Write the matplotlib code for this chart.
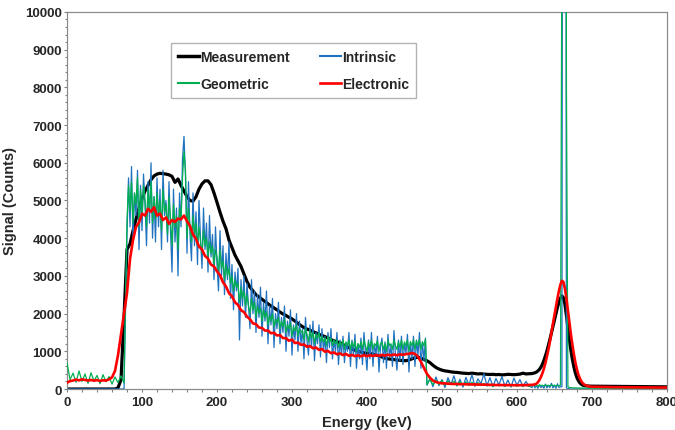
import matplotlib

matplotlib.use("Agg")
import matplotlib.pyplot as plt
import numpy as np
from matplotlib.ticker import MultipleLocator

plt.rcParams["font.family"] = ["Liberation Sans", "DejaVu Sans"]
plt.rcParams["font.weight"] = "bold"

# energy grids (keV)
E_SMOOTH = np.arange(0, 620, 4)    # measurement / electronic continuum
E_LOW = np.arange(0, 80, 4)        # below the 80 keV edge
E_BAND = np.arange(80, 480, 2)     # noisy Compton band
E_MID = np.arange(480, 620, 4)     # between edge and photopeak
E_PEAK = np.arange(620, 702, 2)    # photopeak region
E_TAIL = np.arange(710, 801, 10)

measurement_cont = [
    0, 0, 0, 0, 0, 0, 0, 0, 0, 0,
    0, 0, 0, 0, 0, 0, 0, 30, 250, 1900,
    3700, 3850, 4200, 4500, 4800, 5050, 5250, 5400, 5550, 5650,
    5700, 5720, 5710, 5700, 5680, 5640, 5480, 5570, 5400, 5250,
    5100, 5000, 4980, 5100, 5300, 5440, 5520, 5520, 5420, 5200,
    4950, 4690, 4450, 4250, 3950, 3750, 3550, 3400, 3250, 3050,
    2850, 2700, 2600, 2500, 2440, 2380, 2320, 2260, 2200, 2150,
    2100, 2040, 1990, 1950, 1900, 1860, 1800, 1740, 1680, 1630,
    1590, 1560, 1520, 1490, 1450, 1420, 1390, 1350, 1310, 1280,
    1250, 1230, 1180, 1140, 1100, 1060, 1030, 1000, 980, 960,
    950, 940, 925, 900, 880, 850, 820, 800, 790, 780,
    770, 760, 755, 750, 770, 800, 830, 840, 820, 780,
    750, 700, 630, 570, 530, 500, 480, 470, 455, 445,
    440, 430, 420, 415, 410, 420, 410, 400, 405, 395,
    390, 385, 390, 380, 385, 375, 380, 390, 385, 380,
    385, 395, 420, 400, 405,
]
measurement_peak = [
    410, 420, 430, 450, 480, 520, 580, 660, 760, 880,
    1010, 1160, 1320, 1490, 1660, 1830, 2000, 2160, 2300, 2410,
    2470, 2420, 2250, 1950, 1620, 1300, 1020, 780, 580, 420,
    300, 220, 160, 125, 100, 90, 85, 80, 78, 76,
    75,
]
measurement_tail = [73, 71, 69, 67, 66, 64, 63, 61, 60, 58]

intrinsic_low = [0] * 20
intrinsic_band = [
    4100, 5600, 4300, 5900, 3900, 5200, 4600, 5800, 3700, 5400,
    4200, 5700, 4900, 3800, 5500, 4400, 6000, 4000, 5100, 3900,
    5600, 4300, 5300, 3700, 5800, 4600, 5000, 3900, 5500, 4200,
    3100, 5300, 3900, 4800, 3000, 5200, 4300, 6100, 6700, 5600,
    3600, 5500, 4100, 3400, 5200, 3800, 4700, 3300, 5000, 4000,
    3200, 4800, 3700, 4400, 3100, 4600, 3500, 4100, 2900, 4300,
    3300, 2600, 4200, 3000, 3800, 2500, 3600, 2900, 3900, 2400,
    3300, 2100, 3100, 2600, 3200, 1300, 2900, 2200, 3000, 1900,
    2800, 2200, 1600, 2900, 2000, 2600, 1500, 2500, 1900, 2700,
    1400, 2300, 1800, 2600, 1200, 2200, 1700, 2400, 1100, 2000,
    1600, 2300, 1200, 1900, 1500, 2200, 1000, 1800, 1400, 2100,
    900, 1700, 1300, 2000, 1000, 1800, 1200, 1600, 800, 1900,
    1300, 900, 1700, 1100, 1800, 750, 1500, 1200, 1700, 850,
    1600, 1000, 1400, 700, 1500, 1100, 1600, 800, 1300, 1000,
    1500, 650, 1300, 900, 1400, 700, 1200, 1000, 1500, 600,
    1300, 900, 1450, 550, 1200, 800, 1350, 650, 1500, 950,
    500, 1300, 800, 1500, 600, 1200, 900, 1400, 450, 1100,
    1350, 700, 1250, 550, 1450, 850, 1150, 600, 1550, 900,
    500, 1300, 750, 1400, 650, 1200, 950, 1450, 450, 1250,
    800, 1400, 600, 1300, 900, 1500, 550, 1250, 750, 1350,
]
intrinsic_mid = [
    100, 280, 60, 320, 90, 250, 40, 300, 120, 350,
    80, 260, 50, 310, 100, 380, 70, 270, 140, 400,
    90, 300, 60, 280, 110, 330, 70, 240, 50, 290,
    100, 250, 60, 200, 80,
]
intrinsic_peak = [
    40, 120, 30, 90, 20, 110, 40, 80, 20, 130,
    30, 90, 40, 150, 30, 100, 20, 140, 40, 60,
    60, 40000, 40000, 30, 10, 5, 0, 0, 0, 0,
    0, 0, 0, 0, 0, 0, 0, 0, 0, 0,
    0,
]
intrinsic_tail = [0] * 10

geometric_low = [
    700, 250, 420, 180, 480, 200, 400, 150, 430, 210,
    360, 140, 380, 190, 330, 130, 320, 170, 350, 160,
]
geometric_band = [
    4500, 5400, 4700, 5500, 4400, 5200, 4900, 5600, 4300, 5300,
    4600, 5400, 5000, 4300, 5300, 4700, 5500, 4400, 5100, 4500,
    5200, 4600, 5000, 4200, 5300, 4700, 4900, 4100, 5100, 4500,
    3800, 4900, 4300, 4600, 3700, 4800, 4500, 5600, 6300, 5800,
    4000, 4800, 4300, 3900, 4600, 4100, 4400, 3800, 4300, 3900,
    3600, 4200, 3800, 4000, 3500, 3900, 3600, 3800, 3300, 3700,
    3500, 3100, 3700, 3200, 3400, 2900, 3300, 3000, 3200, 2800,
    3000, 2600, 2900, 2700, 2800, 2300, 2700, 2400, 2600, 2200,
    2500, 2200, 2000, 2400, 2100, 2300, 1900, 2200, 2000, 2150,
    1800, 2100, 1900, 2050, 1700, 1950, 1800, 2000, 1650, 1850,
    1750, 1900, 1600, 1800, 1650, 1850, 1500, 1700, 1600, 1750,
    1400, 1650, 1550, 1700, 1400, 1600, 1500, 1550, 1300, 1600,
    1450, 1250, 1550, 1350, 1500, 1200, 1450, 1350, 1500, 1250,
    1400, 1250, 1350, 1150, 1400, 1250, 1350, 1150, 1300, 1200,
    1300, 1100, 1250, 1150, 1300, 1050, 1250, 1150, 1300, 1050,
    1250, 1100, 1280, 1000, 1200, 1100, 1250, 1050, 1300, 1150,
    1000, 1250, 1100, 1300, 1050, 1200, 1150, 1280, 1000, 1200,
    1250, 1050, 1200, 1000, 1300, 1150, 1200, 1050, 1300, 1150,
    1050, 1250, 1100, 1300, 1050, 1250, 1150, 1300, 1000, 1250,
    1150, 1300, 1050, 1280, 1150, 1320, 1050, 1250, 1150, 1320,
]
geometric_mid = [
    120, 260, 110, 240, 120, 230, 100, 220, 110, 210,
    90, 200, 100, 190, 90, 180, 100, 170, 90, 150,
    80, 130, 70, 120, 80, 110, 70, 120, 80, 110,
    70, 110, 80, 100, 70,
]
geometric_peak = [
    90, 110, 80, 100, 70, 110, 90, 100, 80, 110,
    90, 100, 80, 110, 90, 100, 80, 90, 90, 100,
    12000, 60000, 60000, 8000, 60, 40, 35, 30, 30, 28,
    27, 26, 26, 25, 25, 25, 24, 24, 24, 23,
    23,
]
geometric_tail = [22, 20, 20, 18, 18, 16, 16, 15, 15, 14]

electronic_cont = [
    170, 210, 225, 250, 230, 255, 240, 225, 240, 220,
    235, 215, 230, 225, 255, 310, 480, 900, 1450, 2000,
    2550, 3450, 3950, 4300, 4420, 4650, 4600, 4780, 4700, 4820,
    4600, 4650, 4480, 4550, 4380, 4480, 4430, 4520, 4500, 4600,
    4450, 4320, 4100, 3980, 3780, 3700, 3530, 3460, 3300, 3250,
    3120, 3020, 2830, 2720, 2540, 2460, 2300, 2230, 2090, 2040,
    1920, 1850, 1740, 1720, 1630, 1620, 1550, 1550, 1480, 1490,
    1420, 1430, 1350, 1350, 1280, 1310, 1220, 1230, 1170, 1180,
    1120, 1140, 1080, 1100, 1040, 1060, 990, 1010, 950, 970,
    920, 945, 900, 930, 880, 905, 870, 895, 865, 900,
    870, 895, 875, 900, 880, 905, 885, 910, 890, 915,
    895, 920, 905, 925, 935, 955, 930, 860, 720, 560,
    400, 300, 225, 185, 165, 150, 150, 140, 140, 132,
    135, 128, 130, 124, 126, 120, 122, 116, 120, 114,
    115, 108, 112, 105, 108, 104, 106, 102, 104, 101,
    103, 101, 105, 103, 108,
]
electronic_peak = [
    110, 115, 125, 140, 180, 240, 320, 420, 540, 690,
    860, 1050, 1260, 1500, 1730, 1960, 2180, 2400, 2600, 2770,
    2870, 2840, 2660, 2400, 2080, 1760, 1450, 1170, 920, 700,
    520, 380, 280, 200, 150, 115, 95, 80, 70, 65,
    60,
]
electronic_tail = [56, 52, 49, 47, 45, 43, 42, 41, 40, 39]

smooth_energy = np.concatenate([E_SMOOTH, E_PEAK, E_TAIL])
noisy_energy = np.concatenate([E_LOW, E_BAND, E_MID, E_PEAK, E_TAIL])
measurement = np.concatenate([measurement_cont, measurement_peak, measurement_tail])
electronic = np.concatenate([electronic_cont, electronic_peak, electronic_tail])
intrinsic = np.concatenate([intrinsic_low, intrinsic_band, intrinsic_mid, intrinsic_peak, intrinsic_tail])
geometric = np.concatenate([geometric_low, geometric_band, geometric_mid, geometric_peak, geometric_tail])

fig = plt.figure(figsize=(6.75, 4.31), dpi=100)
ax = fig.add_axes([0.0993, 0.0951, 0.8887, 0.8749])

h_meas, = ax.plot(smooth_energy, measurement, color="#000000", linewidth=2.3, label="Measurement", zorder=2)
h_intr, = ax.plot(noisy_energy, intrinsic, color="#1f72c0", linewidth=0.9, label="Intrinsic", zorder=3)
h_geom, = ax.plot(noisy_energy, geometric, color="#00b050", linewidth=0.9, label="Geometric", zorder=4)
h_elec, = ax.plot(smooth_energy, electronic, color="#ff0000", linewidth=1.9, label="Electronic", zorder=5)

ax.set_xlim(0, 800)
ax.set_ylim(0, 10000)
ax.xaxis.set_major_locator(MultipleLocator(100))
ax.xaxis.set_minor_locator(MultipleLocator(20))
ax.yaxis.set_major_locator(MultipleLocator(1000))
ax.yaxis.set_minor_locator(MultipleLocator(200))
ax.tick_params(which="major", direction="out", length=2.5, width=0.8, color="#808080",
               labelsize=9.5, labelcolor="#262626")
ax.tick_params(which="minor", direction="out", length=1.8, width=0.8, color="#808080")
ax.tick_params(axis="x", which="major", pad=2.5)
ax.tick_params(axis="y", which="major", pad=1.2)
for label in ax.get_xticklabels() + ax.get_yticklabels():
    label.set_fontweight("bold")
for spine in ax.spines.values():
    spine.set_color("#8c8c8c")
    spine.set_linewidth(0.9)

ax.set_xlabel("Energy (keV)", fontsize=10.5, fontweight="bold", color="#262626", labelpad=5)
ax.set_ylabel("Signal (Counts)", fontsize=10.5, fontweight="bold", color="#262626", labelpad=6)

legend = ax.legend(
    [h_meas, h_geom, h_intr, h_elec],
    ["Measurement", "Geometric", "Intrinsic", "Electronic"],
    ncol=2,
    loc="upper left",
    bbox_to_anchor=(0.173, 0.918),
    borderaxespad=0,
    frameon=True,
    fancybox=False,
    edgecolor="#a0a0a0",
    fontsize=10,
    handlelength=1.5,
    handletextpad=0.1,
    columnspacing=2.2,
    labelspacing=0.95,
    borderpad=0.5,
)
legend.get_frame().set_linewidth(1.0)
for line, width in zip(legend.get_lines(), [2.5, 1.5, 1.5, 1.9]):
    line.set_linewidth(width)
for text in legend.get_texts():
    text.set_fontweight("bold")
    text.set_color("#262626")

fig.savefig("out.png", dpi=100)
plt.close(fig)
